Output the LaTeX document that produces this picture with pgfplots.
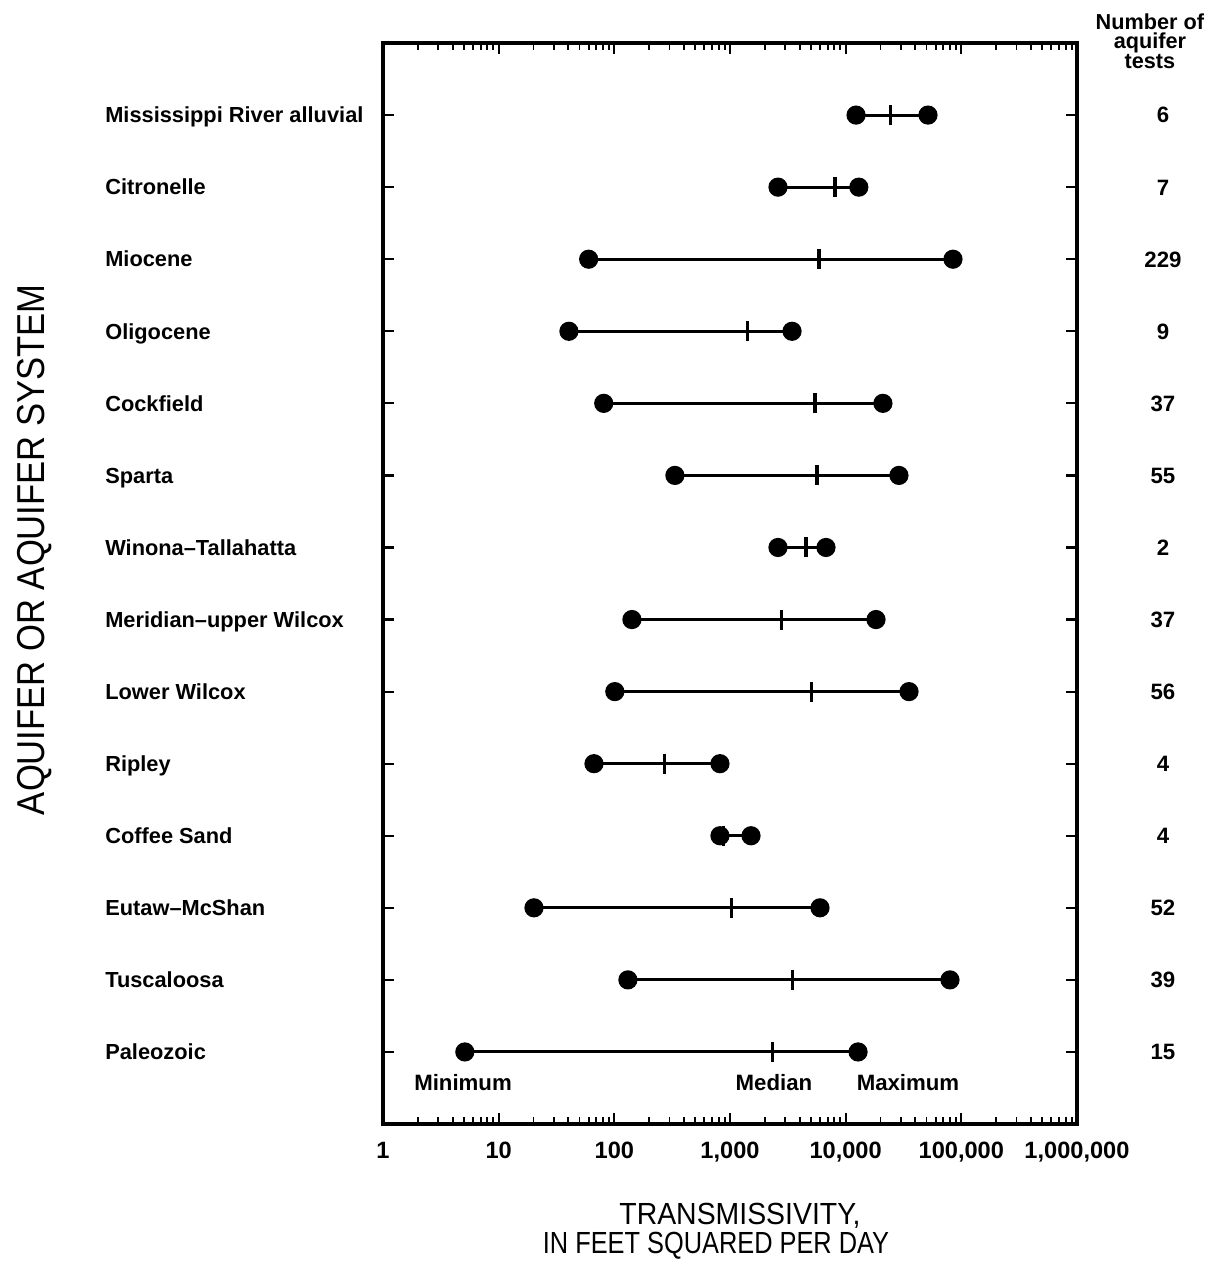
\documentclass[border=0pt]{standalone}
\usepackage{fontspec}
\setmainfont{Liberation Sans}
\usepackage{graphicx}
\usepackage{pgfplots}
\usepackage{pgfplotstable}
\pgfplotsset{compat=1.18}

\pgfplotstableread{
x y
12300 1
51500 1
nan nan
2600 2
13000 2
nan nan
60 3
84700 3
nan nan
40.5 4
3440 4
nan nan
81 5
21000 5
nan nan
334 6
28900 6
nan nan
2600 7
6760 7
nan nan
142 8
18300 8
nan nan
101 9
35300 9
nan nan
66.7 10
819 10
nan nan
819 11
1520 11
nan nan
20.2 12
6000 12
nan nan
131 13
79800 13
nan nan
5.1 14
12800 14
}\rangedata

\pgfplotstableread{
x y
24200 1
8090 2
5880 3
1430 4
5430 5
5650 6
4540 7
2810 8
5110 9
274 10
887 11
1040 12
3440 13
2350 14
}\mediandata

\begin{document}
\begin{tikzpicture}
\begin{axis}[
 name=ax, at={(0,0)}, anchor=south west,
 scale only axis, width=249.84pt, height=389.16pt,
 xmode=log, xmin=1, xmax=1000000,
 ymin=0, ymax=15, y dir=reverse,
 xtick={1,10,100,1000,10000,100000,1000000},
 xticklabels={1,10,100,{1,000},{10,000},{100,000},{1,000,000}},
 minor xtick={2,3,4,5,6,7,8,9,20,30,40,50,60,70,80,90,200,300,400,500,600,700,800,900,2000,3000,4000,5000,6000,7000,8000,9000,20000,30000,40000,50000,60000,70000,80000,90000,200000,300000,400000,500000,600000,700000,800000,900000},
 ytick={1,2,3,4,5,6,7,8,9,10,11,12,13,14},
 yticklabels={Mississippi River alluvial,Citronelle,Miocene,Oligocene,Cockfield,Sparta,Winona--Tallahatta,Meridian--upper Wilcox,Lower Wilcox,Ripley,Coffee Sand,Eutaw--McShan,Tuscaloosa,Paleozoic},
 tick align=inside, tick pos=both,
 major tick length=4pt, minor tick length=2.5pt,
 major tick style={black, line width=0.8pt},
 minor tick style={black, line width=0.7pt},
 axis line style={line width=1.1pt},
 xticklabel style={font=\fontsize{8.5}{10}\selectfont\bfseries, yshift=-3pt},
 yticklabel style={anchor=west, xshift=-103.5pt, text height=5.6pt, text depth=0pt, font=\fontsize{7.85}{9.4}\selectfont\bfseries},
 /pgf/number format/assume math mode=true,
 clip=false,
]
\addplot[black, line width=1.1pt, mark=*, mark size=2.9pt, mark options={solid, fill=black}, unbounded coords=jump] table[x=x,y=y] {\rangedata};
\addplot[black, only marks, mark=|, mark size=3.6pt, mark options={line width=1.1pt}] table[x=x,y=y] {\mediandata};

\begin{scope}[every node/.style={font=\fontsize{8}{9.6}\selectfont\bfseries, text height=5.7pt, text depth=0pt}]
\node at (axis cs:5540000,1) {6};
\node at (axis cs:5540000,2) {7};
\node at (axis cs:5540000,3) {229};
\node at (axis cs:5540000,4) {9};
\node at (axis cs:5540000,5) {37};
\node at (axis cs:5540000,6) {55};
\node at (axis cs:5540000,7) {2};
\node at (axis cs:5540000,8) {37};
\node at (axis cs:5540000,9) {56};
\node at (axis cs:5540000,10) {4};
\node at (axis cs:5540000,11) {4};
\node at (axis cs:5540000,12) {52};
\node at (axis cs:5540000,13) {39};
\node at (axis cs:5540000,14) {15};
\node at (axis cs:4.92,14.42) {Minimum};
\node at (axis cs:2400,14.42) {Median};
\node at (axis cs:34600,14.42) {Maximum};
\end{scope}
\node[align=center, font=\fontsize{7.8}{7}\selectfont\bfseries] at (axis cs:4270000,-0.03) {Number of\\aquifer\\tests};
\node[rotate=90, font=\fontsize{14}{16}\selectfont] at (axis cs:0.00098,7.03) {\scalebox{0.89}[1]{AQUIFER OR AQUIFER SYSTEM}};
\node[font=\fontsize{11}{13}\selectfont] at (axis cs:1219,16.28) {\scalebox{0.93}[1]{TRANSMISSIVITY,}};
\node[font=\fontsize{11}{13}\selectfont] at (axis cs:757,16.69) {\scalebox{0.83}[1]{IN FEET SQUARED PER DAY}};
\end{axis}
\pgfresetboundingbox
\path[use as bounding box] (-137.88pt,-51.12pt) rectangle (297pt,404.64pt);
\end{tikzpicture}
\end{document}
